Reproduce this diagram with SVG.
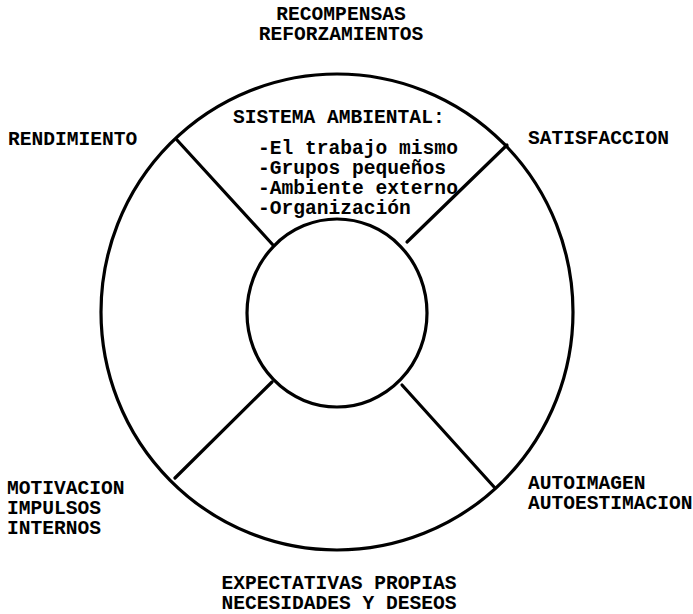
<svg xmlns="http://www.w3.org/2000/svg" width="693" height="614" viewBox="0 0 693 614">
<style>
.t{font-family:"Liberation Mono","Courier New",monospace;font-weight:bold;font-size:19.6px;fill:#000}
.s{fill:none;stroke:#000;stroke-width:3.2;stroke-linecap:round}
</style>
<rect width="693" height="614" fill="#fff"/>
<g id="outer-ring"><ellipse class="s" cx="337" cy="312" rx="236" ry="238"/></g>
<g id="inner-core"><ellipse class="s" cx="337" cy="313" rx="90" ry="94"/></g>
<g id="connectors">
<line class="s" x1="273" y1="245" x2="177" y2="140"/>
<line class="s" x1="407" y1="242" x2="507" y2="145"/>
<line class="s" x1="272" y1="382" x2="175" y2="478"/>
<line class="s" x1="402" y1="385" x2="495" y2="488"/>
</g>
<g id="sistema-ambiental">
<text class="t" x="233" y="123">SISTEMA AMBIENTAL:</text>
<text class="t" x="258" y="154">-El trabajo mismo</text>
<text class="t" x="258" y="174">-Grupos pequeños</text>
<text class="t" x="258" y="194">-Ambiente externo</text>
<text class="t" x="258" y="214">-Organización</text>
</g>
<g id="recompensas"><text class="t" x="341" y="20" text-anchor="middle">RECOMPENSAS</text><text class="t" x="341" y="40" text-anchor="middle">REFORZAMIENTOS</text></g>
<g id="rendimiento"><text class="t" x="8" y="145">RENDIMIENTO</text></g>
<g id="satisfaccion"><text class="t" x="528" y="144">SATISFACCION</text></g>
<g id="motivacion"><text class="t" x="7" y="494">MOTIVACION</text><text class="t" x="7" y="514">IMPULSOS</text><text class="t" x="7" y="534">INTERNOS</text></g>
<g id="autoimagen"><text class="t" x="528" y="489">AUTOIMAGEN</text><text class="t" x="528" y="509">AUTOESTIMACION</text></g>
<g id="expectativas"><text class="t" x="339" y="589" text-anchor="middle">EXPECTATIVAS PROPIAS</text><text class="t" x="339" y="609" text-anchor="middle">NECESIDADES Y DESEOS</text></g>
</svg>
